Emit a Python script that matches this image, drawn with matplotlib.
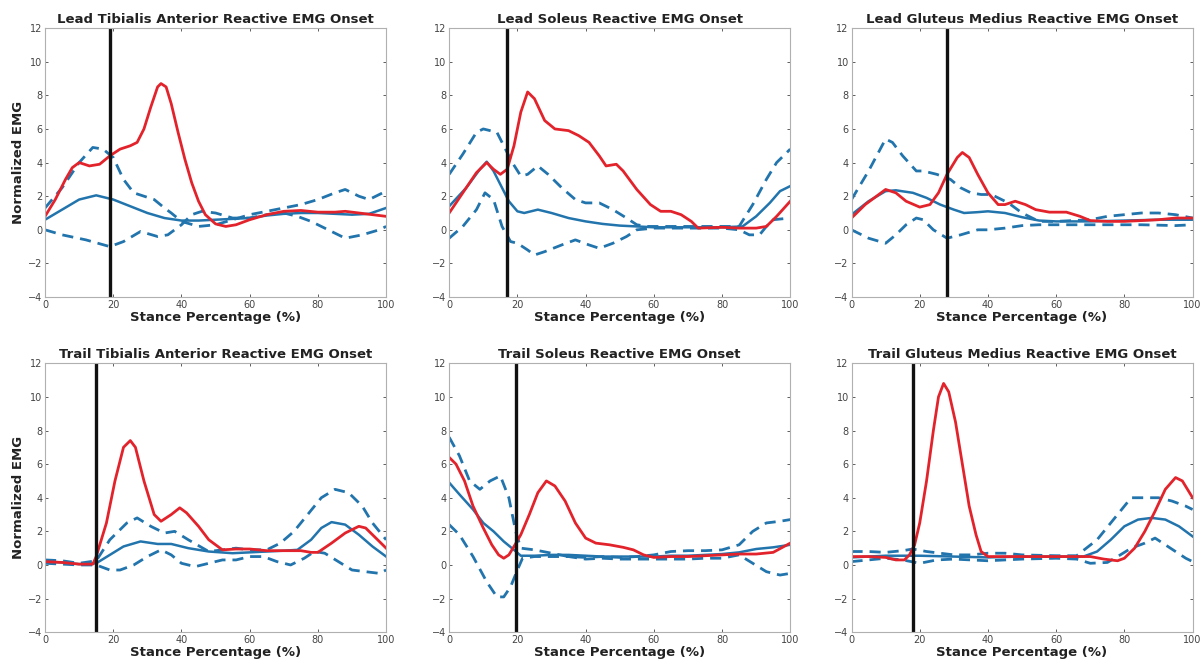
import matplotlib
matplotlib.use("Agg")
import matplotlib.pyplot as plt

# ---- Lead Tibialis Anterior ----
lta_onset = 19
lta_red_x = [0, 3, 6, 8, 10, 13, 16, 19, 22, 25, 27, 29, 31, 33, 34, 35.5, 37, 39, 41, 43, 45, 47, 50, 53, 56, 60, 65, 70, 75, 80, 85, 88, 92, 96, 100]
lta_red_y = [0.8, 1.8, 3.0, 3.7, 4.0, 3.8, 3.9, 4.4, 4.8, 5.0, 5.2, 6.0, 7.3, 8.5, 8.7, 8.5, 7.5, 5.8, 4.2, 2.8, 1.7, 0.9, 0.35, 0.2, 0.3, 0.6, 0.9, 1.1, 1.15, 1.05, 1.05, 1.1, 1.0, 0.9, 0.8]
lta_mean_x = [0, 5, 10, 15, 20, 25, 30, 35, 40, 45, 50, 55, 60, 65, 70, 75, 80, 85, 90, 95, 100]
lta_mean_y = [0.6, 1.2, 1.8, 2.05, 1.8, 1.4, 1.0, 0.7, 0.55, 0.55, 0.6, 0.65, 0.7, 0.85, 0.95, 1.0, 1.0, 0.95, 0.9, 0.95, 1.3]
lta_up_x = [0, 5, 10, 14, 17, 20, 23, 26, 29, 32, 35, 37, 40, 45, 50, 55, 60, 65, 70, 75, 80, 85, 88, 92, 95, 100]
lta_up_y = [1.3, 2.5, 4.0, 4.9, 4.8, 4.3, 3.0, 2.2, 2.0, 1.8, 1.3, 1.0, 0.5, 0.2, 0.3, 0.6, 0.9, 1.1, 1.3, 1.5, 1.8, 2.2, 2.4, 2.0, 1.8, 2.3]
lta_lo_x = [0, 5, 12, 19, 23, 28, 33, 36, 40, 43, 46, 50, 55, 60, 65, 70, 74, 78, 83, 88, 93, 98, 100]
lta_lo_y = [0.0, -0.3, -0.6, -1.0, -0.7, -0.1, -0.4, -0.3, 0.3, 0.9, 1.1, 1.0, 0.7, 0.7, 0.9, 1.0, 0.8, 0.5, 0.0, -0.5, -0.3, 0.0, 0.2]

# ---- Lead Soleus ----
lso_onset = 17
lso_red_x = [0, 4, 8, 11, 13, 15, 17, 19, 21, 23, 25, 28, 31, 35, 38, 41, 44, 46, 49, 51, 55, 59, 62, 65, 68, 71, 73, 80, 85, 90, 93, 96, 100]
lso_red_y = [1.0, 2.2, 3.4, 4.0, 3.6, 3.3, 3.6, 5.0, 7.0, 8.2, 7.8, 6.5, 6.0, 5.9, 5.6, 5.2, 4.4, 3.8, 3.9, 3.5, 2.4, 1.5, 1.1, 1.1, 0.9, 0.5, 0.1, 0.15, 0.1, 0.1, 0.2, 0.8, 1.7]
lso_mean_x = [0, 5, 9, 11, 13, 15.5, 17.5, 20, 22, 26, 30, 35, 40, 45, 50, 55, 60, 70, 80, 86, 90, 94, 97, 100]
lso_mean_y = [1.4, 2.5, 3.6, 4.05, 3.5, 2.5, 1.7, 1.1, 1.0, 1.2, 1.0, 0.7, 0.5, 0.35, 0.25, 0.2, 0.15, 0.15, 0.15, 0.2, 0.8, 1.6, 2.3, 2.6]
lso_up_x = [0, 4, 8, 10, 14, 16, 18.5, 21, 23, 26, 29, 33, 37, 40, 44, 48, 52, 55, 58, 65, 75, 85, 89, 93, 96, 100]
lso_up_y = [3.3, 4.5, 5.8, 6.0, 5.8, 5.0, 4.0, 3.2, 3.3, 3.8, 3.3, 2.5, 1.8, 1.6, 1.6, 1.2, 0.7, 0.3, 0.2, 0.2, 0.2, 0.2, 1.5, 3.0, 4.0, 4.8]
lso_lo_x = [0, 4, 8, 10.5, 13, 15.5, 18, 20, 23, 25, 28, 33, 37, 41, 44, 48, 52, 55, 60, 70, 80, 85, 88, 91, 93, 95, 100]
lso_lo_y = [-0.5, 0.2, 1.2, 2.2, 1.8, 0.2, -0.7, -0.8, -1.2, -1.5, -1.3, -0.9, -0.6, -0.9, -1.1, -0.8, -0.4, 0.0, 0.1, 0.1, 0.1, 0.0, -0.3, -0.3, 0.2, 0.6, 0.7]

# ---- Lead Gluteus Medius ----
lgm_onset = 28
lgm_red_x = [0, 4, 10, 13, 16, 20, 23, 25.5, 28, 31, 32.5, 34.5, 37, 40, 43, 45, 48, 51, 54, 58, 63, 67, 70, 75, 80, 85, 90, 95, 100]
lgm_red_y = [0.7, 1.5, 2.4, 2.2, 1.7, 1.35, 1.5, 2.2, 3.3, 4.3, 4.6, 4.3, 3.3, 2.2, 1.5, 1.5, 1.7, 1.5, 1.2, 1.05, 1.05, 0.8, 0.55, 0.5, 0.5, 0.55, 0.6, 0.7, 0.7]
lgm_mean_x = [0, 5, 10, 13, 18, 22, 26, 30, 33, 37, 40, 45, 50, 55, 60, 70, 80, 90, 100]
lgm_mean_y = [0.9, 1.7, 2.3, 2.35, 2.2, 1.9, 1.5, 1.2, 1.0, 1.05, 1.1, 1.0, 0.75, 0.55, 0.5, 0.5, 0.55, 0.6, 0.6]
lgm_up_x = [0, 5, 10, 12, 15, 19, 21, 25, 29, 32, 35, 38, 41, 46, 50, 55, 60, 65, 70, 75, 80, 85, 90, 95, 100]
lgm_up_y = [1.8, 3.5, 5.4, 5.2, 4.4, 3.5, 3.5, 3.3, 3.0, 2.5, 2.2, 2.1, 2.1, 1.6, 1.0, 0.5, 0.5, 0.55, 0.6, 0.8, 0.9, 1.0, 1.0, 0.9, 0.7]
lgm_lo_x = [0, 5, 10, 13, 16, 19, 21, 24, 28, 32, 37, 40, 45, 50, 55, 65, 75, 85, 95, 100]
lgm_lo_y = [0.0, -0.5, -0.8, -0.3, 0.3, 0.7, 0.6, 0.0, -0.5, -0.3, 0.0, 0.0, 0.1, 0.25, 0.3, 0.3, 0.3, 0.3, 0.25, 0.3]

# ---- Trail Tibialis Anterior ----
tta_onset = 15
tta_red_x = [0, 5, 10, 14, 15, 18, 20.5, 23, 25, 26.5, 29, 32, 34, 37, 39.5, 41.5, 45, 48, 52, 56, 60, 65, 70, 75, 78, 80, 84, 88, 92, 94, 97, 100]
tta_red_y = [0.2, 0.15, 0.05, 0.05, 0.5, 2.5, 5.0, 7.0, 7.4, 7.0, 5.0, 3.0, 2.6, 3.0, 3.4, 3.1, 2.3, 1.5, 0.9, 0.95, 0.95, 0.85, 0.85, 0.85, 0.75, 0.75, 1.3, 1.9, 2.3, 2.2, 1.6, 1.0]
tta_mean_x = [0, 5, 10, 15, 19, 23, 28, 33, 37, 42, 48, 55, 60, 65, 70, 74, 78, 81, 84, 88, 92, 96, 100]
tta_mean_y = [0.2, 0.15, 0.05, 0.1, 0.6, 1.1, 1.4, 1.25, 1.25, 1.0, 0.8, 0.7, 0.75, 0.8, 0.85, 0.9, 1.5, 2.2, 2.55, 2.4, 1.8, 1.1, 0.5]
tta_up_x = [0, 5, 10, 15, 19, 24, 27, 31, 35, 38, 42, 48, 52, 56, 60, 65, 69, 73, 77, 81, 85, 89, 93, 96, 100]
tta_up_y = [0.3, 0.25, 0.1, 0.25, 1.5, 2.5, 2.8, 2.3, 1.9, 2.0, 1.5, 0.8, 0.9, 1.0, 0.9, 0.9, 1.3, 2.0, 3.0, 4.0, 4.5, 4.3, 3.5, 2.5, 1.5]
tta_lo_x = [0, 5, 10, 15, 19, 22, 26, 30, 34, 37, 40, 44, 48, 52, 56, 60, 64, 68, 72, 76, 79, 82, 86, 90, 94, 98, 100]
tta_lo_y = [0.1, 0.05, 0.0, 0.0, -0.3, -0.3, 0.0, 0.5, 0.9, 0.6, 0.1, -0.1, 0.1, 0.3, 0.3, 0.5, 0.5, 0.2, 0.0, 0.4, 0.8, 0.7, 0.2, -0.3, -0.4, -0.5, -0.3]

# ---- Trail Soleus ----
tso_onset = 19.5
tso_red_x = [0, 2, 4.5, 7, 10, 12.5, 14.5, 16, 17.5, 19, 21, 23.5, 26, 28.5, 31, 34, 37, 40, 43, 47, 51, 54, 57, 60, 65, 70, 75, 80, 85, 90, 95, 100]
tso_red_y = [6.4, 6.0, 5.0, 3.5, 2.2, 1.2, 0.6, 0.4, 0.6, 1.1, 1.8, 3.0, 4.3, 5.0, 4.7, 3.8, 2.5, 1.6, 1.3, 1.2, 1.05, 0.9, 0.6, 0.45, 0.5, 0.5, 0.55, 0.6, 0.65, 0.65, 0.75, 1.3]
tso_mean_x = [0, 3, 7, 10, 13, 16, 19, 21, 25, 30, 35, 40, 45, 50, 55, 60, 65, 70, 75, 80, 85, 90, 95, 100]
tso_mean_y = [4.9, 4.2, 3.3, 2.5, 2.0, 1.4, 0.9, 0.55, 0.55, 0.6, 0.6, 0.55, 0.5, 0.5, 0.5, 0.5, 0.55, 0.55, 0.6, 0.65, 0.75, 0.95, 1.05, 1.2]
tso_up_x = [0, 3, 6, 9, 12, 15, 17.5, 19.5, 21, 25, 30, 35, 40, 45, 50, 55, 60, 65, 70, 75, 80, 85, 89, 93, 97, 100]
tso_up_y = [7.6, 6.5, 5.0, 4.5, 5.0, 5.3, 4.0, 2.0, 1.0, 0.9, 0.7, 0.5, 0.45, 0.5, 0.45, 0.5, 0.6, 0.8, 0.85, 0.85, 0.9, 1.2, 2.0, 2.5, 2.6, 2.7]
tso_lo_x = [0, 3, 7, 11, 14, 16, 18, 20, 21.5, 25, 30, 35, 40, 45, 50, 55, 60, 65, 70, 75, 80, 85, 89, 93, 97, 100]
tso_lo_y = [2.4, 1.8, 0.5, -1.0, -1.9, -1.9, -1.3, -0.3, 0.4, 0.5, 0.5, 0.5, 0.35, 0.4, 0.35, 0.35, 0.35, 0.35, 0.35, 0.4, 0.4, 0.6, 0.1, -0.4, -0.6, -0.5]

# ---- Trail Gluteus Medius ----
tgm_onset = 18
tgm_red_x = [0, 5, 10, 13, 15.5, 17, 18.5, 20, 22, 24, 25.5, 27, 28.5, 30.5, 32.5, 34.5, 36.5, 38, 40, 45, 50, 60, 70, 74, 78, 80, 83, 86, 89, 92, 95, 97, 100]
tgm_red_y = [0.5, 0.5, 0.45, 0.3, 0.3, 0.6, 1.2, 2.5, 5.0, 8.0, 10.0, 10.8, 10.3, 8.5, 6.0, 3.5, 1.8, 0.8, 0.5, 0.5, 0.5, 0.5, 0.5, 0.35, 0.25, 0.4, 1.0, 2.0, 3.2, 4.5, 5.2, 5.0, 4.0]
tgm_mean_x = [0, 5, 10, 15, 20, 30, 40, 50, 60, 68, 72, 76, 80, 84, 88, 92, 96, 100]
tgm_mean_y = [0.45, 0.5, 0.55, 0.55, 0.55, 0.5, 0.45, 0.5, 0.5, 0.5, 0.8, 1.5, 2.3, 2.7, 2.8, 2.7, 2.3, 1.7]
tgm_up_x = [0, 5, 10, 15, 18, 22, 30, 35, 40, 45, 50, 60, 66, 72, 78, 82, 86, 90, 94, 98, 100]
tgm_up_y = [0.8, 0.8, 0.75, 0.85, 0.95, 0.8, 0.6, 0.6, 0.7, 0.7, 0.6, 0.55, 0.55, 1.5, 3.0, 4.0, 4.0, 4.0, 3.8, 3.5, 3.3]
tgm_lo_x = [0, 5, 10, 15, 20, 25, 30, 35, 40, 45, 50, 60, 66, 70, 75, 78, 82, 86, 89, 92, 95, 98, 100]
tgm_lo_y = [0.2, 0.3, 0.4, 0.3, 0.1, 0.3, 0.35, 0.3, 0.25, 0.3, 0.35, 0.4, 0.35, 0.1, 0.15, 0.5, 1.0, 1.3, 1.6, 1.2, 0.8, 0.4, 0.2]

titles = [
    "Lead Tibialis Anterior Reactive EMG Onset",
    "Lead Soleus Reactive EMG Onset",
    "Lead Gluteus Medius Reactive EMG Onset",
    "Trail Tibialis Anterior Reactive EMG Onset",
    "Trail Soleus Reactive EMG Onset",
    "Trail Gluteus Medius Reactive EMG Onset",
]
x_ticks = [0, 20, 40, 60, 80, 100]
y_ticks = [-4, -2, 0, 2, 4, 6, 8, 10, 12]

panels = [
    (lta_onset, lta_red_x, lta_red_y, lta_mean_x, lta_mean_y, lta_up_x, lta_up_y, lta_lo_x, lta_lo_y),
    (lso_onset, lso_red_x, lso_red_y, lso_mean_x, lso_mean_y, lso_up_x, lso_up_y, lso_lo_x, lso_lo_y),
    (lgm_onset, lgm_red_x, lgm_red_y, lgm_mean_x, lgm_mean_y, lgm_up_x, lgm_up_y, lgm_lo_x, lgm_lo_y),
    (tta_onset, tta_red_x, tta_red_y, tta_mean_x, tta_mean_y, tta_up_x, tta_up_y, tta_lo_x, tta_lo_y),
    (tso_onset, tso_red_x, tso_red_y, tso_mean_x, tso_mean_y, tso_up_x, tso_up_y, tso_lo_x, tso_lo_y),
    (tgm_onset, tgm_red_x, tgm_red_y, tgm_mean_x, tgm_mean_y, tgm_up_x, tgm_up_y, tgm_lo_x, tgm_lo_y),
]

RED = "#e3232b"
BLUE = "#2274ad"

fig = plt.figure(figsize=(12.01, 6.69), dpi=100)

lefts = [0.0375, 0.374, 0.709]
bottoms = [0.556, 0.055]
width, height = 0.284, 0.402

for i, (onset, rx, ry, mx, my, ux, uy, lx, ly) in enumerate(panels):
    row, col = divmod(i, 3)
    ax = fig.add_axes([lefts[col], bottoms[row], width, height])

    # group mean +/- SD in blue, individual trial in red
    ax.plot(ux, uy, color=BLUE, lw=2.0, ls=(0, (4, 2.5)), solid_joinstyle="round")
    ax.plot(lx, ly, color=BLUE, lw=2.0, ls=(0, (4, 2.5)), solid_joinstyle="round")
    ax.plot(mx, my, color=BLUE, lw=1.8, solid_joinstyle="round")
    ax.plot(rx, ry, color=RED, lw=2.0, solid_joinstyle="round")
    ax.axvline(onset, color="#111111", lw=2.4)

    ax.set_xlim(0, 100)
    ax.set_ylim(-4, 12)
    ax.set_xticks(x_ticks)
    ax.set_yticks(y_ticks)
    ax.tick_params(direction="in", length=2.5, width=0.6, labelsize=7,
                   colors="#444444", top=True, right=True, pad=2)
    for sp in ax.spines.values():
        sp.set_color("#b0b0b0")
        sp.set_linewidth(0.8)

    ax.set_title(titles[i], fontsize=9.5, fontweight="bold", pad=4, color="#222222")
    ax.set_xlabel("Stance Percentage (%)", fontsize=9.5, fontweight="bold", labelpad=1, color="#222222")
    if col == 0:
        ax.set_ylabel("Normalized EMG", fontsize=9.5, fontweight="bold", labelpad=2, color="#222222")

fig.savefig("out.png", dpi=100)
plt.close(fig)
